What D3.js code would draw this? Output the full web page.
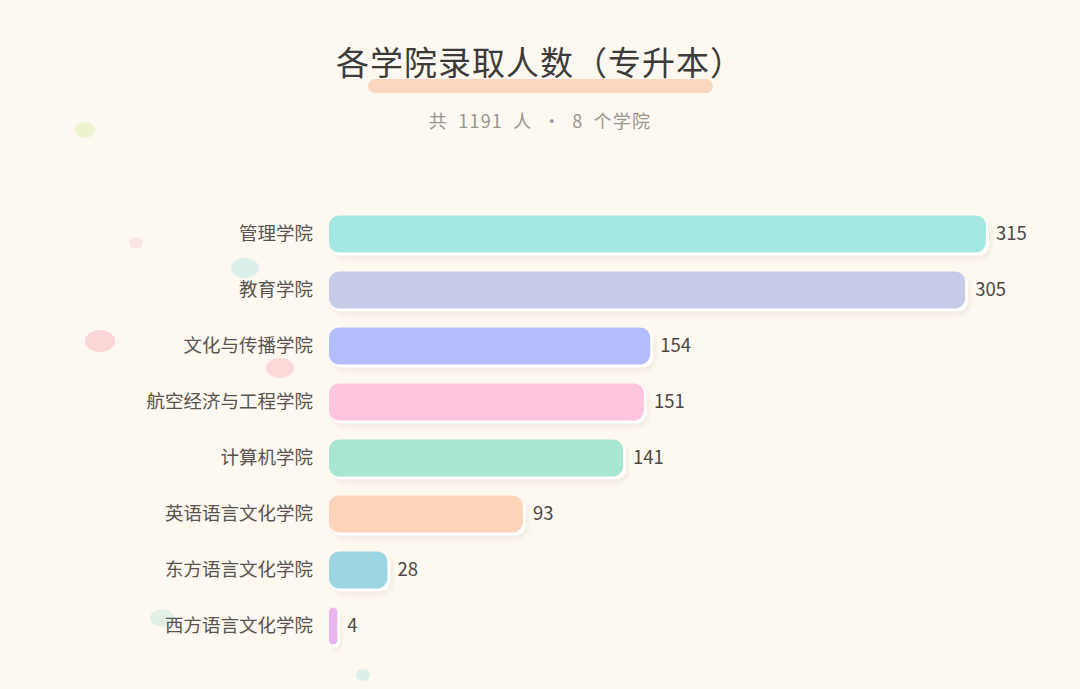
<!DOCTYPE html>
<html><head><meta charset="utf-8">
<script src="https://cdn.jsdelivr.net/npm/d3@7"></script>
<style>
html,body{margin:0;padding:0;background:#fdf8f0;}
svg{display:block;font-family:"Noto Sans CJK SC","Noto Sans",sans-serif;}
</style></head>
<body>
<svg id="c" width="1080" height="689"></svg>
<script>
const categories = ["管理学院","教育学院","文化与传播学院","航空经济与工程学院","计算机学院","英语语言文化学院","东方语言文化学院","西方语言文化学院"];
const values = [315,305,154,151,141,93,28,4];
const colors = ["#a3e8e3","#c6cbe8","#b4bdfb","#fdc5de","#a7e6d0","#fdd4b8","#9cd6e2","#e8b6ee"];
const titleText = "各学院录取人数（专升本）";
const subtitleText = "共 1191 人 · 8 个学院";
const dots = [
  {x:85,y:130,rx:10,ry:8,c:"#eef3cf"},
  {x:136,y:243,rx:7,ry:6,c:"#fbe3e6"},
  {x:245,y:268,rx:14,ry:10,c:"#dcefeb"},
  {x:100,y:341,rx:15,ry:11,c:"#fbd6d6"},
  {x:280,y:368,rx:14,ry:10,c:"#fbd9d9"},
  {x:162,y:618,rx:12,ry:9,c:"#e2f0e6"},
  {x:363,y:675,rx:7,ry:6,c:"#dcefe9"}
];

const svg = d3.select("#c");
svg.append("rect").attr("width",1080).attr("height",689).attr("fill","#fdf8f0");

const defs = svg.append("defs");
const f = defs.append("filter").attr("id","sh").attr("x","-20%").attr("y","-40%").attr("width","140%").attr("height","180%");
f.append("feDropShadow").attr("dx",2).attr("dy",3).attr("stdDeviation",2).attr("flood-color","#d8cfc0").attr("flood-opacity",0.35);

svg.selectAll("ellipse.dot").data(dots).join("ellipse").attr("class","dot")
  .attr("cx",d=>d.x).attr("cy",d=>d.y).attr("rx",d=>d.rx).attr("ry",d=>d.ry).attr("fill",d=>d.c);

// title
svg.append("rect").attr("x",368).attr("y",79).attr("width",345).attr("height",14).attr("rx",7)
  .attr("fill","#fcd6bf");
svg.append("text").attr("x",540).attr("y",75).attr("text-anchor","middle")
  .attr("font-size",33).attr("fill","#3b3b3b").attr("letter-spacing",1).text(titleText);
svg.append("text").attr("x",540).attr("y",128).attr("text-anchor","middle")
  .attr("font-size",18).attr("fill","#9a9590").attr("letter-spacing",1.2).style("word-spacing","5px").text(subtitleText);

const x = d3.scaleLinear().domain([0,315]).range([329,986]);
const y = d3.scaleBand().domain(categories).range([206,654]).paddingInner(0.34).paddingOuter(0.17);
const data = categories.map((c,i)=>({c,v:values[i],col:colors[i]}));
const bh = y.bandwidth();

const g = svg.append("g");
const rows = g.selectAll("g.row").data(data).join("g").attr("class","row");
// white backing offset
rows.append("rect")
  .attr("x",d=>x(0)+2).attr("y",d=>y(d.c)+3)
  .attr("width",d=>x(d.v)-x(0)+1).attr("height",bh)
  .attr("rx",d=>Math.min(10,(x(d.v)-x(0))/2+1)).attr("fill","#ffffff").attr("filter","url(#sh)");
rows.append("rect")
  .attr("x",x(0)).attr("y",d=>y(d.c))
  .attr("width",d=>x(d.v)-x(0)).attr("height",bh)
  .attr("rx",d=>Math.min(10,(x(d.v)-x(0))/2)).attr("fill",d=>d.col);
rows.append("text")
  .attr("x",313).attr("y",d=>y(d.c)+bh/2).attr("dy","0.35em").attr("text-anchor","end")
  .attr("font-size",18.5).attr("fill","#57534f").text(d=>d.c);
rows.append("text")
  .attr("x",d=>x(d.v)+10).attr("y",d=>y(d.c)+bh/2).attr("dy","0.35em")
  .attr("font-size",18.5).attr("fill","#4a4744").text(d=>d.v);
</script>
</body></html>
